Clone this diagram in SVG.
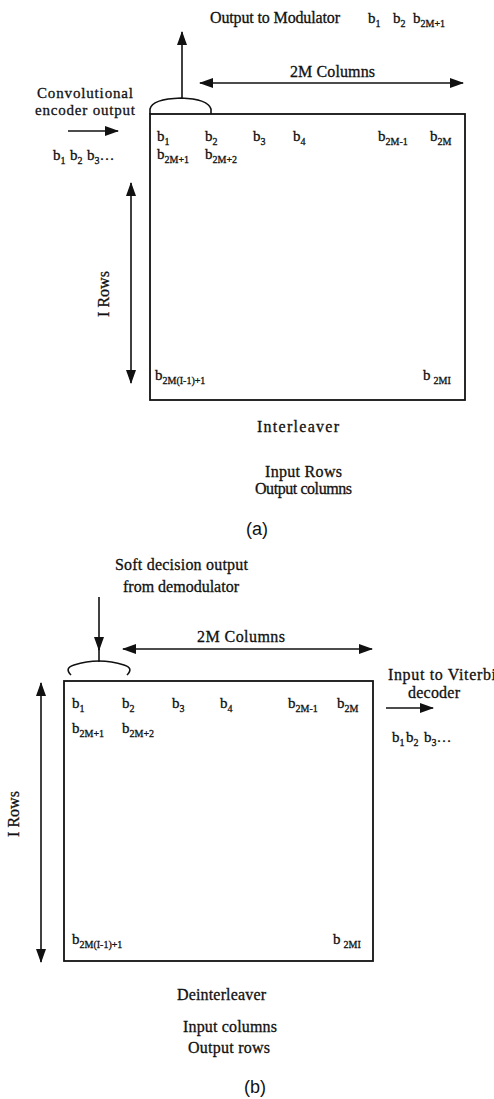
<svg xmlns="http://www.w3.org/2000/svg" width="494" height="1099" viewBox="0 0 494 1099">
<style>
text{font-family:"Liberation Serif","Times New Roman",serif;font-size:15px;fill:#111;stroke:#111;stroke-width:0.3}
.t{font-size:16px}
.s{font-size:10px}
.lab{font-family:"Liberation Sans",Arial,sans-serif;font-size:18px;stroke:none}
.box{fill:none;stroke:#111;stroke-width:1.8}
.ln{fill:none;stroke:#111;stroke-width:1.6}
.cap{fill:none;stroke:#111;stroke-width:1.6}
</style>
<defs>
<marker id="ah" viewBox="0 0 14 10" refX="13" refY="5" markerWidth="14" markerHeight="10" markerUnits="userSpaceOnUse" orient="auto-start-reverse">
<path d="M0,0 L14,5 L0,10 z" fill="#111"/>
</marker>
</defs>
<rect width="494" height="1099" fill="#fff"/>

<!-- (a) Interleaver -->
<g id="interleaver">
<rect class="box" x="150" y="114" width="315" height="286"/>
<path class="cap" d="M150,114 L150,109 Q152,99 181,98 Q208,99 211,109 L211,114"/>
<text x="157" y="141">b<tspan class="s" dy="4">1</tspan></text>
<text x="205" y="141">b<tspan class="s" dy="4">2</tspan></text>
<text x="253" y="141">b<tspan class="s" dy="4">3</tspan></text>
<text x="293" y="141">b<tspan class="s" dy="4">4</tspan></text>
<text x="378" y="141">b<tspan class="s" dy="4">2M-1</tspan></text>
<text x="430" y="141">b<tspan class="s" dy="4">2M</tspan></text>
<text x="157" y="159">b<tspan class="s" dy="4">2M+1</tspan></text>
<text x="205" y="159">b<tspan class="s" dy="4">2M+2</tspan></text>
<text x="155" y="380">b<tspan class="s" dy="4">2M(I-1)+1</tspan></text>
<text x="423" y="380">b<tspan class="s" dy="4" dx="3">2MI</tspan></text>
</g>
<g id="labels-a">
<text class="t" x="210" y="23" textLength="130" lengthAdjust="spacing">Output to Modulator</text>
<text x="368" y="23">b<tspan class="s" dy="4">1</tspan></text>
<text x="393" y="23">b<tspan class="s" dy="4">2</tspan></text>
<text x="413" y="23">b<tspan class="s" dy="4">2M+1</tspan></text>
<text class="t" x="290" y="77" textLength="85" lengthAdjust="spacing">2M Columns</text>
<text x="37" y="98" textLength="96" lengthAdjust="spacing">Convolutional</text>
<text x="35" y="115" textLength="100" lengthAdjust="spacing">encoder output</text>
<text x="53" y="160">b<tspan class="s" dy="4">1</tspan></text>
<text x="70" y="160">b<tspan class="s" dy="4">2</tspan></text>
<text x="87" y="160">b<tspan class="s" dy="4">3</tspan><tspan dy="-4">…</tspan></text>
<text class="t" transform="translate(109,294) rotate(-90)" x="0" y="0" text-anchor="middle">I Rows</text>
<text class="t" x="257" y="432" textLength="82" lengthAdjust="spacing">Interleaver</text>
<text class="t" x="265" y="477" textLength="77" lengthAdjust="spacing">Input Rows</text>
<text class="t" x="255" y="494" textLength="97" lengthAdjust="spacing">Output columns</text>
<text class="lab" x="257" y="535" text-anchor="middle">(a)</text>
</g>

<!-- (b) Deinterleaver -->
<g id="deinterleaver">
<rect class="box" x="64" y="681" width="309" height="280"/>
<path class="cap" d="M71,675 Q64,668 74,665 Q99,657 124,665 Q134,668 127,675"/>
<text x="72" y="708">b<tspan class="s" dy="4">1</tspan></text>
<text x="122" y="708">b<tspan class="s" dy="4">2</tspan></text>
<text x="172" y="708">b<tspan class="s" dy="4">3</tspan></text>
<text x="220" y="708">b<tspan class="s" dy="4">4</tspan></text>
<text x="288" y="708">b<tspan class="s" dy="4">2M-1</tspan></text>
<text x="337" y="708">b<tspan class="s" dy="4">2M</tspan></text>
<text x="72" y="733">b<tspan class="s" dy="4">2M+1</tspan></text>
<text x="122" y="733">b<tspan class="s" dy="4">2M+2</tspan></text>
<text x="72" y="944">b<tspan class="s" dy="4">2M(I-1)+1</tspan></text>
<text x="333" y="944">b<tspan class="s" dy="4" dx="3">2MI</tspan></text>
</g>
<g id="labels-b">
<text class="t" x="115" y="570" textLength="133" lengthAdjust="spacing">Soft decision output</text>
<text class="t" x="123" y="592" textLength="116" lengthAdjust="spacing">from demodulator</text>
<text class="t" x="197" y="642" textLength="88" lengthAdjust="spacing">2M Columns</text>
<text class="t" x="388" y="680" textLength="108" lengthAdjust="spacing">Input to Viterbi</text>
<text class="t" x="408" y="698" textLength="52" lengthAdjust="spacing">decoder</text>
<text x="392" y="742">b<tspan class="s" dy="4">1</tspan></text>
<text x="406" y="742">b<tspan class="s" dy="4">2</tspan></text>
<text x="424" y="742">b<tspan class="s" dy="4">3</tspan><tspan dy="-4">…</tspan></text>
<text class="t" transform="translate(19,814) rotate(-90)" x="0" y="0" text-anchor="middle">I Rows</text>
<text class="t" x="177" y="1000" textLength="89" lengthAdjust="spacing">Deinterleaver</text>
<text class="t" x="183" y="1032" textLength="94" lengthAdjust="spacing">Input columns</text>
<text class="t" x="188" y="1053" textLength="82" lengthAdjust="spacing">Output rows</text>
<text class="lab" x="255" y="1093" text-anchor="middle">(b)</text>
</g>

<g id="connectors">
<line class="ln" x1="182" y1="98" x2="182" y2="32" marker-end="url(#ah)"/>
<line class="ln" x1="200" y1="83" x2="463" y2="83" marker-start="url(#ah)" marker-end="url(#ah)"/>
<line class="ln" x1="68" y1="131" x2="118" y2="131" marker-end="url(#ah)"/>
<line class="ln" x1="131" y1="183" x2="131" y2="383" marker-start="url(#ah)" marker-end="url(#ah)"/>
<line class="ln" x1="99" y1="597" x2="99" y2="650" marker-end="url(#ah)"/>
<line class="ln" x1="99" y1="648" x2="99" y2="662"/>
<line class="ln" x1="123" y1="649" x2="372" y2="649" marker-start="url(#ah)" marker-end="url(#ah)"/>
<line class="ln" x1="386" y1="708" x2="433" y2="708" marker-end="url(#ah)"/>
<line class="ln" x1="41" y1="683" x2="41" y2="962" marker-start="url(#ah)" marker-end="url(#ah)"/>
</g>
</svg>
